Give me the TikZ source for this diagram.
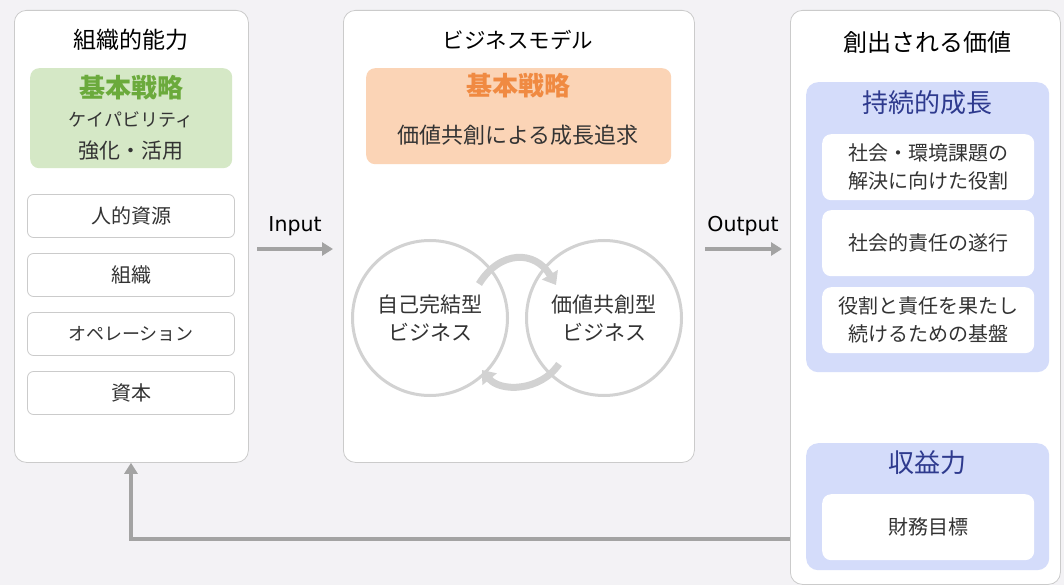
\documentclass[tikz,border=0pt]{standalone}
\usepackage{fontspec}
\setmainfont{Noto Sans CJK JP}
\newfontfamily\latf{DejaVu Sans}
\usetikzlibrary{arrows.meta,calc}
\definecolor{bgc}{HTML}{F3F2F5}
\definecolor{pborder}{HTML}{CBCBCB}
\definecolor{gfill}{HTML}{D5E8C6}
\definecolor{gtext}{HTML}{6BAA3C}
\definecolor{ofill}{HTML}{FBD4B6}
\definecolor{otext}{HTML}{F08A42}
\definecolor{bfill}{HTML}{D4DCFA}
\definecolor{btext}{HTML}{2E3A8E}
\definecolor{arrowc}{HTML}{A3A3A3}
\definecolor{circc}{HTML}{D2D2D2}
\definecolor{txt}{HTML}{333333}
\newcommand{\fsz}[1]{\fontsize{#1}{#1}\selectfont}
\begin{document}
\begin{tikzpicture}[x=1pt,y=-1pt,
  panel/.style={draw=pborder,fill=white,rounded corners=12,line width=0.8,anchor=north west,inner sep=0},
  ttl/.style={text=black,font=\fsz{23}},
  gbox/.style={fill=gfill,rounded corners=9,anchor=north west,inner sep=0},
  obox/.style={fill=ofill,rounded corners=9,anchor=north west,inner sep=0},
  bbox/.style={fill=bfill,rounded corners=12,anchor=north west,inner sep=0},
  wbox/.style={fill=white,rounded corners=9,anchor=north west,inner sep=0},
  sbox/.style={draw=pborder,fill=white,rounded corners=6,line width=0.8,minimum width=207,minimum height=43,inner sep=0,text=txt,font=\fsz{20}},
  body/.style={text=txt,align=center,font=\fontsize{20}{28}\selectfont},
  hdr/.style={font=\bfseries\fsz{26}},
  btitle/.style={text=btext,font=\fsz{26}},
  garrow/.style={draw=arrowc,line width=3.5,-{Triangle[length=11,width=13]}},
  carrow/.style={draw=circc,line width=7,-{Triangle[length=12,width=18]}},
  lbl/.style={text=black,font=\latf\fsz{20.5}}
]
\fill[bgc] (0,0) rectangle (1064,585);
\useasboundingbox (0,0) rectangle (1064,585);

% ---------- left panel
\node[panel,minimum width=234,minimum height=452] (lp) at (14,10) {};
\node[ttl] (lpt) at (131,40) {組織的能力};
\node[gbox,minimum width=202,minimum height=100] (gb) at (30,68) {};
\node[hdr,text=gtext] (gbt) at (131,88) {基本戦略};
\node[text=txt,font=\fsz{18}] (gbb1) at (131,120) {ケイパビリティ};
\node[text=txt,font=\fsz{21}] (gbb2) at (131,151) {強化・活用};
\node[sbox] (s1) at (131,216) {人的資源};
\node[sbox] (s2) at (131,275) {組織};
\node[sbox,font=\fsz{18}] (s3) at (131,334) {オペレーション};
\node[sbox] (s4) at (131,393) {資本};

% ---------- middle panel
\node[panel,minimum width=351,minimum height=452] (mp) at (343,10) {};
\node[ttl,font=\fsz{21.5}] (mpt) at (518,40) {ビジネスモデル};
\node[obox,minimum width=305,minimum height=96] (ob) at (366,68) {};
\node[hdr,text=otext] (obt) at (518,86) {基本戦略};
\node[text=txt,font=\fsz{22}] (obb) at (518,135) {価値共創による成長追求};

\node[circle,draw=circc,line width=3,minimum size=155,inner sep=0] (c1) at (430,318) {};
\node[circle,draw=circc,line width=3,minimum size=155,inner sep=0] (c2) at (604,318) {};
\node[body,font=\fontsize{21}{28}\selectfont] (c1t) at (c1.center) {自己完結型\\ビジネス};
\node[body,font=\fontsize{21}{28}\selectfont] (c2t) at (c2.center) {価値共創型\\ビジネス};
\coordinate (ta) at (479,284);
\coordinate (tb) at (556,285);
\coordinate (ba) at (559,364);
\coordinate (bb) at (482,370);
\draw[carrow] (ta) .. controls (500,250) and (535,250) .. (tb);
\draw[carrow] (ba) .. controls (540,392) and (500,392) .. (bb);

% ---------- input / output
\coordinate (in1) at (257,249);
\coordinate (in2) at (333,249);
\coordinate (out1) at (705,249);
\coordinate (out2) at (782,249);
\draw[garrow] (in1) -- (in2);
\draw[garrow] (out1) -- (out2);
\node[lbl] (inl) at (295,226) {Input};
\node[lbl] (outl) at (743,226) {Output};

% ---------- right panel
\node[panel,minimum width=270,minimum height=574] (rp) at (790,10) {};
\node[ttl,font=\fsz{24}] (rpt) at (927,42) {創出される価値};
\node[bbox,minimum width=243,minimum height=290] (bb1) at (806,82) {};
\node[btitle] (bb1t) at (927,103) {持続的成長};
\node[wbox,minimum width=212,minimum height=66] (w1) at (822,134) {};
\node[body] (w1t) at (w1.center) {社会・環境課題の\\解決に向けた役割};
\node[wbox,minimum width=212,minimum height=66] (w2) at (822,210) {};
\node[body] (w2t) at (w2.center) {社会的責任の遂行};
\node[wbox,minimum width=212,minimum height=66] (w3) at (822,287) {};
\node[body] (w3t) at (w3.center) {役割と責任を果たし\\続けるための基盤};
\node[bbox,minimum width=243,minimum height=127] (bb2) at (806,443) {};
\node[btitle] (bb2t) at (927,463) {収益力};
\node[wbox,minimum width=212,minimum height=66] (w4) at (822,494) {};
\node[body] (w4t) at (w4.center) {財務目標};

% ---------- feedback arrow
\coordinate (fb) at (131,539);
\draw[garrow] (fb -| rp.west) -- (fb) -- (fb |- lp.south);
\end{tikzpicture}
\end{document}
